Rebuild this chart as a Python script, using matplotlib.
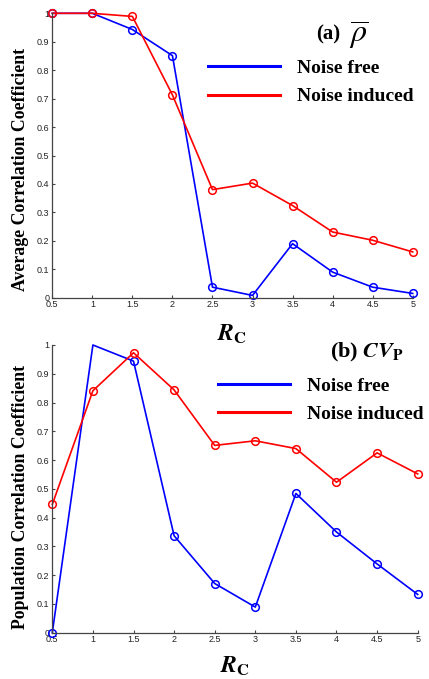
import matplotlib
matplotlib.use("Agg")
import matplotlib.pyplot as plt

plt.rcParams['mathtext.fontset'] = 'stix'

rc = [0.5, 1, 1.5, 2, 2.5, 3, 3.5, 4, 4.5, 5]
xtick_labels = ['0.5', '1', '1.5', '2', '2.5', '3', '3.5', '4', '4.5', '5']
yticks = [0, 0.1, 0.2, 0.3, 0.4, 0.5, 0.6, 0.7, 0.8, 0.9, 1.0]
ytick_labels = ['0', '0.1', '0.2', '0.3', '0.4', '0.5', '0.6', '0.7', '0.8', '0.9', '1']

avg_free = [1.0, 1.0, 0.943, 0.851, 0.037, 0.008, 0.19, 0.09, 0.037, 0.015]
avg_noise = [1.0, 1.0, 0.989, 0.713, 0.38, 0.403, 0.324, 0.231, 0.202, 0.161]

pop_free = [0.0, 1.0, 0.944, 0.337, 0.171, 0.089, 0.484, 0.35, 0.239, 0.133]
pop_noise = [0.446, 0.841, 0.973, 0.844, 0.651, 0.667, 0.640, 0.523, 0.625, 0.552]

W, H = 429, 679
fig = plt.figure(figsize=(W / 100, H / 100), dpi=100)


def px_axes(l, t, r, b):
    return fig.add_axes([l / W, 1 - b / H, (r - l) / W, (b - t) / H])


serif = 'Liberation Serif'


def style(ax, ylabel, ylab_x, ylab_y):
    ax.set_xlim(0.5, 5)
    ax.set_ylim(0, 1)
    ax.set_xticks(rc)
    ax.set_xticklabels(xtick_labels)
    ax.set_yticks(yticks)
    ax.set_yticklabels(ytick_labels)
    ax.tick_params(direction='in', length=2.5, width=0.8, labelsize=6.5, pad=2,
                   colors='#444444')
    for lab in ax.get_xticklabels() + ax.get_yticklabels():
        lab.set_fontfamily('Liberation Sans')
        lab.set_color('#222222')
    ax.spines['top'].set_visible(False)
    ax.spines['right'].set_visible(False)
    for s in ('left', 'bottom'):
        ax.spines[s].set_linewidth(0.9)
        ax.spines[s].set_color('#444444')
    ax.set_ylabel(ylabel, fontfamily=serif, fontweight='bold', fontsize=12.8)
    ax.yaxis.set_label_coords(ylab_x, ylab_y)


def legend(ax, x, y):
    leg = ax.legend(loc='center left', bbox_to_anchor=(x, y), frameon=False,
                    prop={'family': serif, 'weight': 'bold', 'size': 14},
                    handlelength=3.7, handletextpad=0.9, labelspacing=0.55,
                    borderaxespad=0, borderpad=0)
    for h in leg.get_lines():
        h.set_marker('')
        h.set_linewidth(2.2)


mk = dict(marker='o', markerfacecolor='none', markersize=5.5, markeredgewidth=1.1, lw=1.2,
          clip_on=False)

ax1 = px_axes(52.3, 13.3, 412.7, 297.7)
ax1.plot(rc, avg_free, color='#0000ff', label='Noise free', **mk)
ax1.plot(rc, avg_noise, color='#ff0000', label='Noise induced', **mk)
style(ax1, 'Average Correlation Coefficient', -0.066, 0.4525)
ax1.set_xlabel(r'$\mathbfit{R}_{\mathbf{C}}$', fontsize=17, labelpad=9)
ax1.text(0.732, 0.925, '(a)', transform=ax1.transAxes, fontsize=15,
         fontfamily=serif, fontweight='bold', va='center', ha='left')
ax1.text(0.823, 0.922, r'$\overline{\rho}$', transform=ax1.transAxes, fontsize=23,
         va='center', ha='left')
legend(ax1, 0.432, 0.757)

ax2 = px_axes(52.3, 345, 417.7, 632.7)
ax2.plot(rc, pop_free, color='#0000ff', label='Noise free', markevery=[0, 2, 3, 4, 5, 6, 7, 8, 9], **mk)
ax2.plot(rc, pop_noise, color='#ff0000', label='Noise induced', **mk)
style(ax2, 'Population Correlation Coefficient', -0.065, 0.4717)
ax2.set_xlabel(r'$\mathbfit{R}_{\mathbf{C}}$', fontsize=17, labelpad=7)
ax2.text(0.76, 0.975, r'(b) $\mathbfit{CV}_{\mathbf{P}}$', transform=ax2.transAxes, fontsize=16,
         fontfamily=serif, fontweight='bold', va='center', ha='left')
legend(ax2, 0.453, 0.809)

fig.savefig('out.png', dpi=100)
